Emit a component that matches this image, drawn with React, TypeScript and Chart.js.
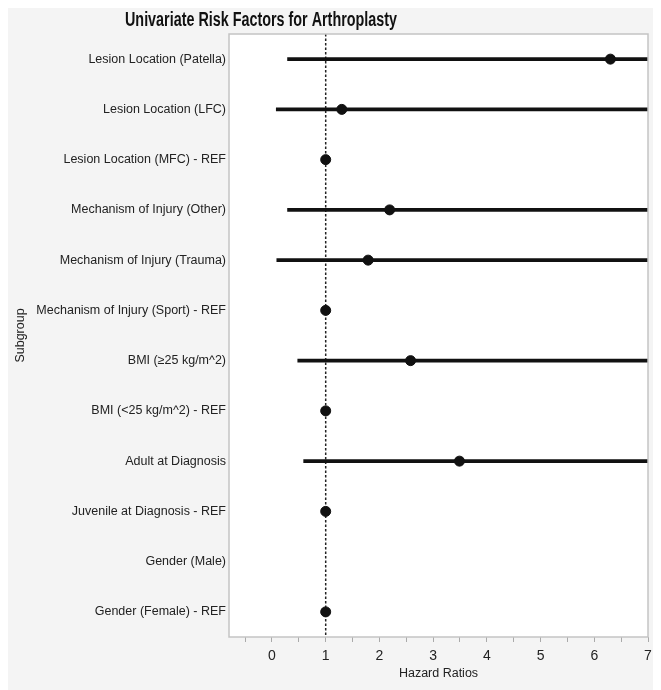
import React, { useEffect, useRef } from "react";
import { Chart, registerables } from "chart.js";

Chart.register(...registerables);

const TITLE = "Univariate Risk Factors for Arthroplasty";
const X_TITLE = "Hazard Ratios";
const Y_TITLE = "Subgroup";

const subgroups = [
  "Lesion Location (Patella)",
  "Lesion Location (LFC)",
  "Lesion Location (MFC) - REF",
  "Mechanism of Injury (Other)",
  "Mechanism of Injury (Trauma)",
  "Mechanism of Injury (Sport) - REF",
  "BMI (≥25 kg/m^2)",
  "BMI (<25 kg/m^2) - REF",
  "Adult at Diagnosis",
  "Juvenile at Diagnosis - REF",
  "Gender (Male)",
  "Gender (Female) - REF",
];

const hazardRatios: (number | null)[] = [6.3, 1.3, 1, 2.19, 1.79, 1, 2.58, 1, 3.49, 1, null, 1];
const ciLower: (number | null)[] = [0.29, 0.08, null, 0.29, 0.09, null, 0.48, null, 0.59, null, null, null];
const ciUpper: (number | null)[] = [12, 12, null, 12, 12, null, 12, null, 12, null, null, null];

const REFERENCE_VALUE = 1;
const X_MIN = -0.8;
const X_MAX = 7;
const X_STEP = 0.5;

const FONT = "'Liberation Sans', Arial, Helvetica, sans-serif";

const decorPlugin = {
  id: "decor",
  beforeDraw(chart: any) {
    const { ctx, width, height, chartArea } = chart;
    ctx.save();
    ctx.fillStyle = "#f4f4f4";
    ctx.fillRect(0, 0, width, height);
    ctx.fillStyle = "#ffffff";
    ctx.fillRect(chartArea.left, chartArea.top, chartArea.right - chartArea.left, chartArea.bottom - chartArea.top);
    ctx.restore();
  },
  beforeDatasetsDraw(chart: any) {
    const { ctx, chartArea, scales } = chart;
    const x = scales.x.getPixelForValue(REFERENCE_VALUE);
    ctx.save();
    ctx.strokeStyle = "#222";
    ctx.lineWidth = 1.5;
    ctx.setLineDash([2.5, 2]);
    ctx.beginPath();
    ctx.moveTo(x, chartArea.top);
    ctx.lineTo(x, chartArea.bottom);
    ctx.stroke();
    ctx.restore();
  },
  afterDraw(chart: any) {
    const { ctx, chartArea } = chart;
    ctx.save();
    ctx.strokeStyle = "#c4c4c4";
    ctx.lineWidth = 1.5;
    ctx.strokeRect(chartArea.left, chartArea.top, chartArea.right - chartArea.left, chartArea.bottom - chartArea.top);
    ctx.fillStyle = "#111";
    ctx.font = "bold 19px 'Liberation Sans', Arial, sans-serif";
    ctx.textAlign = "center";
    ctx.textBaseline = "middle";
    const w = ctx.measureText(TITLE).width;
    const sx = Math.min(1, 272 / w);
    ctx.translate(253, 13);
    ctx.scale(sx, 1.05);
    ctx.fillText(TITLE, 0, 0);
    ctx.restore();
  },
};

export default function App() {
  const ref = useRef<HTMLCanvasElement>(null);
  useEffect(() => {
    if (!ref.current) return;
    const chart = new Chart(ref.current, {
      type: "bar",
      data: {
        labels: subgroups,
        datasets: [
          {
            type: "bar",
            label: "95% CI",
            data: ciLower.map((lo, i) => (lo === null ? null : [lo, ciUpper[i]])) as any,
            backgroundColor: "#111",
            borderWidth: 0,
            barThickness: 3,
          },
          {
            type: "line",
            label: "Hazard Ratio",
            data: hazardRatios as any,
            showLine: false,
            pointRadius: 5,
            pointHoverRadius: 5,
            pointBackgroundColor: "#111",
            pointBorderColor: "#111",
            borderColor: "#111",
          },
        ],
      },
      options: {
        indexAxis: "y",
        animation: false,
        responsive: true,
        maintainAspectRatio: false,
        layout: { padding: { top: 26, right: 13, left: 0, bottom: 0 } },
        plugins: {
          legend: { display: false },
          tooltip: { enabled: false },
          title: { display: false },
        },
        scales: {
          x: {
            type: "linear",
            min: X_MIN,
            max: X_MAX,
            border: { display: false },
            grid: { display: true, drawOnChartArea: false, drawTicks: true, tickLength: 5, color: "#aaa" },
            ticks: {
              stepSize: X_STEP,
              includeBounds: false,
              autoSkip: false,
              maxRotation: 0,
              padding: 6,
              color: "#222",
              font: { family: FONT, size: 14 },
              callback: (v: any) => (Number.isInteger(Number(v)) ? String(v) : ""),
            },
            title: {
              display: true,
              text: X_TITLE,
              color: "#222",
              font: { family: FONT, size: 12.5 },
              padding: { top: 0, bottom: 9 },
            },
            afterFit: (s: any) => {
              s.height = 53;
            },
          },
          y: {
            type: "category",
            border: { display: false },
            grid: { display: false, drawTicks: false },
            ticks: {
              padding: 3,
              color: "#222",
              font: { family: FONT, size: 12.5 },
              autoSkip: false,
            },
            title: {
              display: true,
              text: Y_TITLE,
              color: "#222",
              font: { family: FONT, size: 12.5 },
              padding: { top: 5, bottom: 0 },
            },
            afterFit: (s: any) => {
              s.width = 221;
            },
          },
        },
      } as any,
      plugins: [decorPlugin],
    });
    return () => chart.destroy();
  }, []);
  return (
    <div style={{ position: "relative", width: 653, height: 682 }}>
      <canvas ref={ref} />
    </div>
  );
}
